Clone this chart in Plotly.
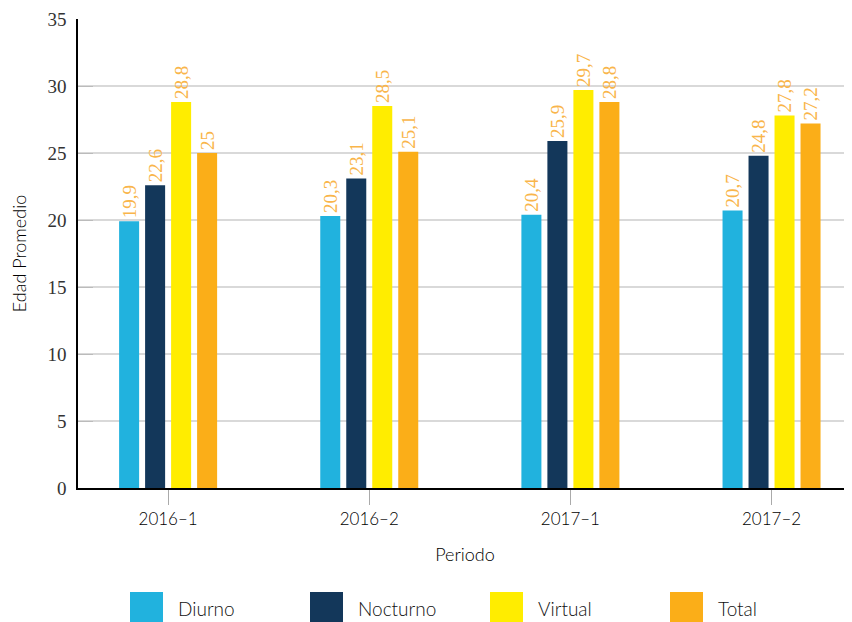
import plotly.graph_objects as go

periodos = ["2016–1", "2016–2", "2017–1", "2017–2"]
series = ["Diurno", "Nocturno", "Virtual", "Total"]
diurno = [19.9, 20.3, 20.4, 20.7]
nocturno = [22.6, 23.1, 25.9, 24.8]
virtual = [28.8, 28.5, 29.7, 27.8]
total = [25, 25.1, 28.8, 27.2]
y_ticks = [0, 5, 10, 15, 20, 25, 30, 35]

values = [diurno, nocturno, virtual, total]
colors = ["#21B2DE", "#13375A", "#FFED00", "#FBAE18"]
label_color = "#F9B54A"
serif = "Liberation Serif, DejaVu Serif, serif"
sans = "Lato, Noto Sans, sans-serif"

OFF = 8  # browser body margin
W, H = 852 - OFF, 622 - OFF
L, R, T, B = 78 - OFF, 0, 19 - OFF, 134
pw, ph = W - L - R, H - T - B

def px_x(p):
    return (p - OFF - L) / pw

def px_y(p):
    return (H - B - (p - OFF)) / ph

fig = go.Figure()
for name, vals, col in zip(series, values, colors):
    fig.add_trace(go.Bar(
        x=periodos, y=vals, name=name, marker_color=col,
        marker_line_width=0,
        text=[f"{v:g}".replace(".", ",") + "\u00a0\u00a0" for v in vals],
        textposition="outside", textangle=-90, constraintext="none",
        textfont=dict(family=serif, size=19, color=label_color),
        cliponaxis=False, showlegend=False,
    ))

# custom legend (large square swatches)
shapes = []
annotations = []
for i, (name, col) in enumerate(zip(series, colors)):
    x0 = 130 + 180 * i
    shapes.append(dict(type="rect", xref="paper", yref="paper",
                       x0=px_x(x0), x1=px_x(x0 + 33), y0=px_y(592), y1=px_y(626),
                       fillcolor=col, line_width=0, layer="above"))
    annotations.append(dict(xref="paper", yref="paper", x=px_x(x0 + 46), y=px_y(608),
                            text=name, showarrow=False, xanchor="left", yanchor="middle",
                            font=dict(family=sans, size=19, color="#111111", weight=300)))

fig.update_layout(
    width=W, height=H,
    margin=dict(l=L, r=R, t=T, b=B),
    plot_bgcolor="white", paper_bgcolor="white",
    barmode="group", bargap=0.483, bargroupgap=0.23,
    shapes=shapes, annotations=annotations,
    xaxis=dict(
        type="category", range=[-0.448, 3.40],
        showline=True, linecolor="black", linewidth=1.5,
        ticks="outside", ticklen=15, tickcolor="#aaaaaa", tickwidth=1,
        tickfont=dict(family=sans, size=17, color="#000000", weight=300),
        title=dict(text="Periodo", font=dict(family=sans, size=18, color="#000000", weight=300), standoff=20),
        showgrid=False,
    ),
    yaxis=dict(
        range=[0, 35], tickvals=y_ticks,
        showline=True, linecolor="black", linewidth=1.5,
        ticks="inside", ticklen=15, tickcolor="#bbbbbb",
        ticklabelstandoff=6,
        tickfont=dict(family=serif, size=19, color="#333333"),
        showgrid=True, gridcolor="#d9d9d9", gridwidth=1.5,
        zeroline=False,
        title=dict(text="Edad Promedio", font=dict(family=sans, size=18, color="#000000", weight=300), standoff=22),
    ),
)

fig.write_html("out.html")
